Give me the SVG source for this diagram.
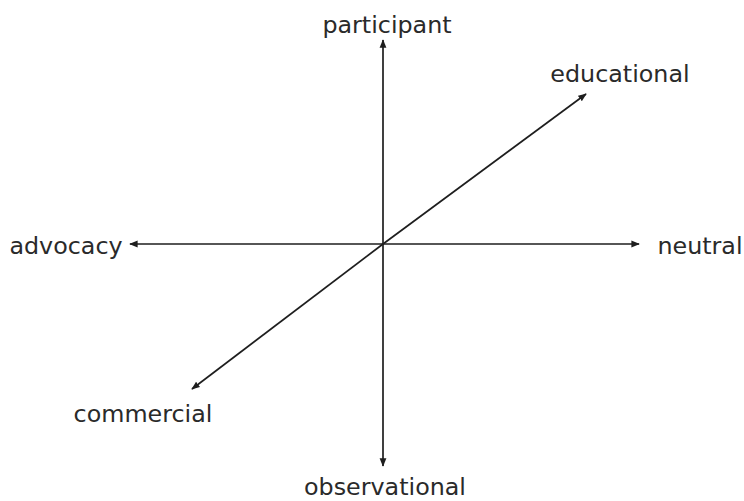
<svg xmlns="http://www.w3.org/2000/svg" width="744" height="501" viewBox="0 0 744 501">
<style>
.ax{stroke:#1e1e1e;stroke-width:1.7;fill:none;marker-end:url(#ah)}
.lb{font-family:"DejaVu Sans",Verdana,sans-serif;font-size:23.8px;fill:#2a2a2a}
</style>
<defs>
<marker id="ah" viewBox="0 0 10 10" refX="9" refY="5" markerWidth="5" markerHeight="5" orient="auto" markerUnits="strokeWidth">
<path d="M0,1 L10,5 L0,9 Z" fill="#1e1e1e"/>
</marker>
</defs>
<rect width="744" height="501" fill="#ffffff"/>
<g id="connectors">
<line class="ax" x1="383" y1="244" x2="383" y2="40"/>
<line class="ax" x1="383" y1="244" x2="383" y2="466"/>
<line class="ax" x1="383" y1="244" x2="130" y2="244"/>
<line class="ax" x1="383" y1="244" x2="639" y2="244"/>
<line class="ax" x1="383" y1="244" x2="586" y2="94"/>
<line class="ax" x1="383" y1="244" x2="192" y2="389"/>
</g>
<g id="participant"><text class="lb" x="387" y="33" text-anchor="middle">participant</text></g>
<g id="educational"><text class="lb" x="620" y="82" text-anchor="middle">educational</text></g>
<g id="advocacy"><text class="lb" x="66" y="254" text-anchor="middle">advocacy</text></g>
<g id="neutral"><text class="lb" x="700" y="254" text-anchor="middle">neutral</text></g>
<g id="commercial"><text class="lb" x="143" y="422" text-anchor="middle">commercial</text></g>
<g id="observational"><text class="lb" x="385" y="495" text-anchor="middle">observational</text></g>
</svg>
